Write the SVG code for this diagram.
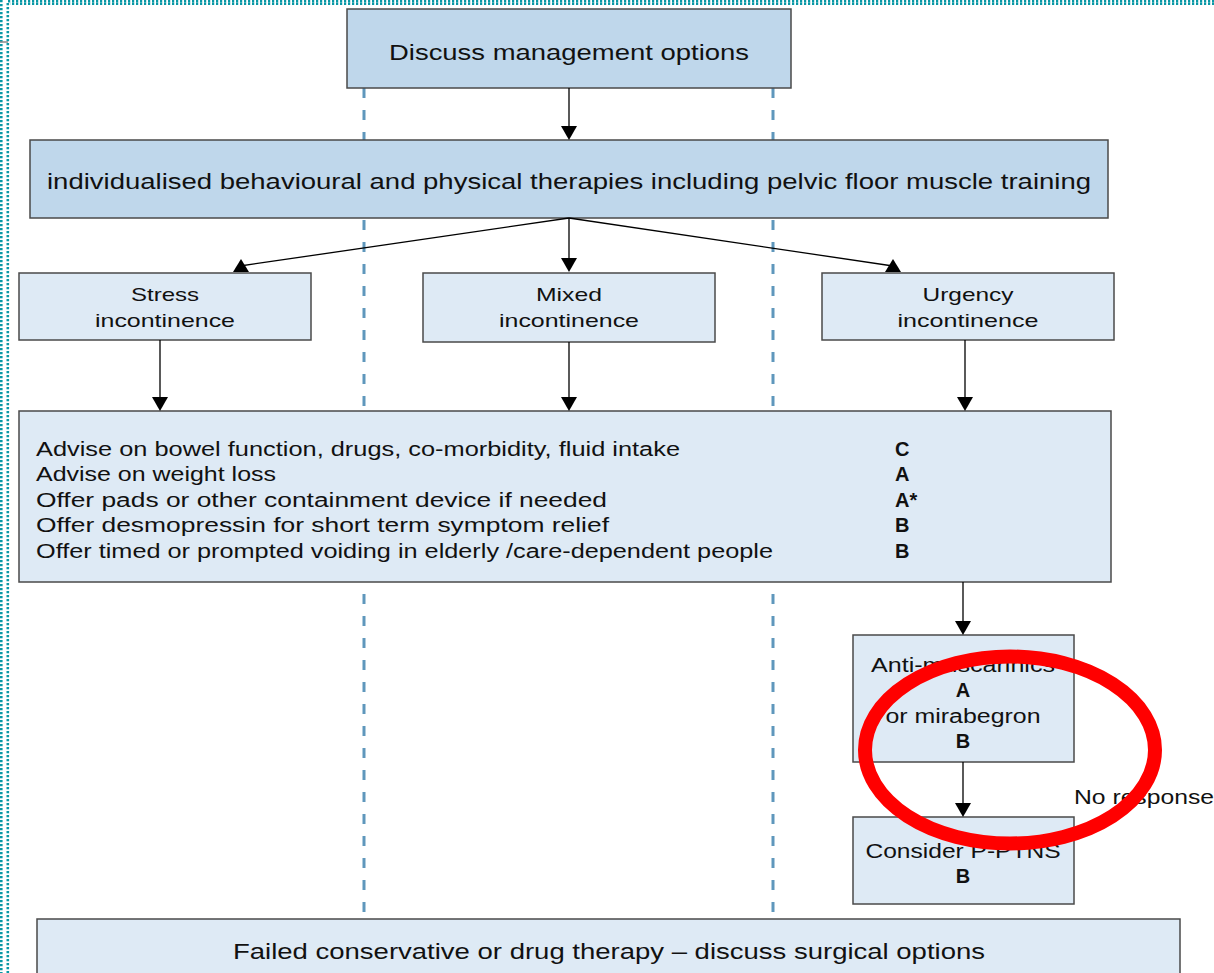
<svg xmlns="http://www.w3.org/2000/svg" width="1214" height="973" viewBox="0 0 1214 973">
<style>
.dark{fill:#bfd7eb;stroke:#4a4a4a;stroke-width:1.5}
.light{fill:#deeaf5;stroke:#4a4a4a;stroke-width:1.5}
.t{font-family:"Liberation Sans",Arial,sans-serif;fill:#111}
.b{font-family:"Liberation Sans",Arial,sans-serif;font-weight:bold;fill:#111}
.guide{stroke:#5f97bc;stroke-width:3;stroke-dasharray:10 12}
.edge{stroke:#000;stroke-width:1.3;fill:none}
.head{fill:#000}
.border{stroke:#0a98a6;stroke-width:2.6;stroke-dasharray:2.2 1.8;fill:none}
</style>
<rect width="1214" height="973" fill="#fff"/>
<g id="frame">
<line class="border" x1="1.3" y1="0" x2="1.3" y2="973"/>
<line class="border" x1="7.8" y1="3" x2="7.8" y2="973"/>
<line class="border" x1="8" y1="1.3" x2="1214" y2="1.3"/>
<line class="border" x1="10" y1="3.8" x2="1214" y2="3.8" stroke-dashoffset="2" stroke-width="1.6"/>
<line x1="0" y1="42" x2="8" y2="42" stroke="#888" stroke-width="1.5"/>
</g>
<g id="guides">
<line class="guide" x1="364" y1="88" x2="364" y2="919"/>
<line class="guide" x1="773" y1="88" x2="773" y2="919"/>
</g>
<g id="n-discuss">
<rect class="dark" x="347" y="9" width="444" height="79"/>
<text class="t" x="569" y="60" font-size="22" text-anchor="middle" textLength="360" lengthAdjust="spacingAndGlyphs">Discuss management options</text>
</g>
<g id="n-therapies">
<rect class="dark" x="30" y="140" width="1078" height="78"/>
<text class="t" x="569" y="189" font-size="22" text-anchor="middle" textLength="1044" lengthAdjust="spacingAndGlyphs">individualised behavioural and physical therapies including pelvic floor muscle training</text>
</g>
<g id="n-stress">
<rect class="light" x="19" y="273" width="292" height="67"/>
<text class="t" x="165" y="301" font-size="19" text-anchor="middle" textLength="68" lengthAdjust="spacingAndGlyphs">Stress</text>
<text class="t" x="165" y="327" font-size="19" text-anchor="middle" textLength="140" lengthAdjust="spacingAndGlyphs">incontinence</text>
</g>
<g id="n-mixed">
<rect class="light" x="423" y="273" width="292" height="69"/>
<text class="t" x="569" y="301" font-size="19" text-anchor="middle" textLength="66" lengthAdjust="spacingAndGlyphs">Mixed</text>
<text class="t" x="569" y="327" font-size="19" text-anchor="middle" textLength="140" lengthAdjust="spacingAndGlyphs">incontinence</text>
</g>
<g id="n-urgency">
<rect class="light" x="822" y="273" width="292" height="67"/>
<text class="t" x="968" y="301" font-size="19" text-anchor="middle" textLength="91" lengthAdjust="spacingAndGlyphs">Urgency</text>
<text class="t" x="968" y="327" font-size="19" text-anchor="middle" textLength="141" lengthAdjust="spacingAndGlyphs">incontinence</text>
</g>
<g id="n-advise">
<rect class="light" x="19" y="411" width="1092" height="171"/>
<text class="t" x="36" y="456" font-size="19.5" textLength="644" lengthAdjust="spacingAndGlyphs">Advise on bowel function, drugs, co-morbidity, fluid intake</text>
<text class="t" x="36" y="481" font-size="19.5" textLength="240" lengthAdjust="spacingAndGlyphs">Advise on weight loss</text>
<text class="t" x="36" y="507" font-size="19.5" textLength="571" lengthAdjust="spacingAndGlyphs">Offer pads or other containment device if needed</text>
<text class="t" x="36" y="532" font-size="19.5" textLength="573" lengthAdjust="spacingAndGlyphs">Offer desmopressin for short term symptom relief</text>
<text class="t" x="36" y="558" font-size="19.5" textLength="737" lengthAdjust="spacingAndGlyphs">Offer timed or prompted voiding in elderly /care-dependent people</text>
<text class="b" x="895" y="456" font-size="20">C</text>
<text class="b" x="895" y="481" font-size="20">A</text>
<text class="b" x="895" y="507" font-size="20">A*</text>
<text class="b" x="895" y="532" font-size="20">B</text>
<text class="b" x="895" y="558" font-size="20">B</text>
</g>
<g id="n-antimuscarinics">
<rect class="light" x="853" y="635" width="221" height="127"/>
<text class="t" x="963" y="672" font-size="19.5" text-anchor="middle" textLength="184" lengthAdjust="spacingAndGlyphs">Anti-muscarinics</text>
<text class="b" x="963" y="697" font-size="20" text-anchor="middle">A</text>
<text class="t" x="963" y="723" font-size="19.5" text-anchor="middle" textLength="155" lengthAdjust="spacingAndGlyphs">or mirabegron</text>
<text class="b" x="963" y="748" font-size="20" text-anchor="middle">B</text>
</g>
<g id="n-ptns">
<rect class="light" x="853" y="817" width="221" height="87"/>
<text class="t" x="963" y="858" font-size="19.5" text-anchor="middle" textLength="195" lengthAdjust="spacingAndGlyphs">Consider P-PTNS</text>
<text class="b" x="963" y="883" font-size="20" text-anchor="middle">B</text>
</g>
<g id="n-failed">
<rect class="light" x="37" y="919" width="1143" height="60"/>
<text class="t" x="609" y="959" font-size="22" text-anchor="middle" textLength="752" lengthAdjust="spacingAndGlyphs">Failed conservative or drug therapy – discuss surgical options</text>
</g>
<g id="connectors">
<line class="edge" x1="569" y1="88" x2="569" y2="128"/>
<polygon class="head" points="561,126 577,126 569,140"/>
<line class="edge" x1="569" y1="218" x2="240" y2="266"/>
<polygon class="head" points="233,272 249,272 241,259"/>
<line class="edge" x1="569" y1="218" x2="569" y2="260"/>
<polygon class="head" points="561,258 577,258 569,272"/>
<line class="edge" x1="569" y1="218" x2="893" y2="266"/>
<polygon class="head" points="885,272 901,272 893,259"/>
<line class="edge" x1="160" y1="340" x2="160" y2="400"/>
<polygon class="head" points="152,397 168,397 160,411"/>
<line class="edge" x1="569" y1="342" x2="569" y2="400"/>
<polygon class="head" points="561,397 577,397 569,411"/>
<line class="edge" x1="965" y1="340" x2="965" y2="400"/>
<polygon class="head" points="957,397 973,397 965,411"/>
<line class="edge" x1="963" y1="582" x2="963" y2="624"/>
<polygon class="head" points="955,621 971,621 963,635"/>
<line class="edge" x1="963" y1="762" x2="963" y2="806"/>
<polygon class="head" points="955,803 971,803 963,817"/>
<text class="t" x="1074" y="804" font-size="19.5" textLength="140" lengthAdjust="spacingAndGlyphs">No response</text>
</g>
<g id="highlight">
<ellipse cx="1010" cy="750" rx="145" ry="93.5" fill="none" stroke="#ff0000" stroke-width="14"/>
</g>
</svg>
